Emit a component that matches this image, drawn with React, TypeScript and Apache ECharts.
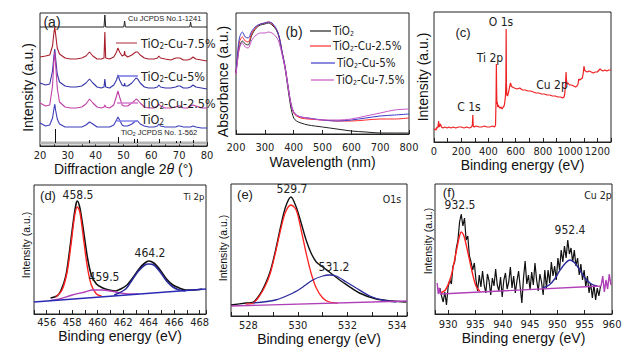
import React, { useEffect, useRef } from 'react';
import * as echarts from 'echarts';

const FONT = "'Liberation Sans', Arial, sans-serif";
const NARROW = "'Liberation Sans Narrow', 'DejaVu Sans Condensed', 'Liberation Sans', sans-serif";

// ---------- (a) XRD ----------
const xrdAngle = [20, 22, 23.5, 24.5, 25.0, 25.3, 25.6, 26.2, 27, 29, 31, 33, 35, 36.5, 37.8, 39, 40.5, 42, 43.0, 43.3, 43.6, 45, 46.5, 47.5, 48.0, 48.6, 49.5, 50.2, 50.4, 50.6, 51.5, 53, 53.9, 54.5, 55.1, 56, 57.5, 59, 61, 62.2, 62.7, 63.3, 65, 67, 68.8, 69.5, 70.3, 71.5, 73, 74.1, 75.0, 76, 78, 80];
const xrdCu75 = [89, 90, 91, 100, 113, 119, 112, 98, 92, 88, 87, 87, 88, 90, 94, 90, 87, 87, 88, 114, 88, 87, 89, 94, 98, 94, 90, 91, 95, 91, 89, 91, 93, 94, 94, 91, 88, 87, 87, 88, 90, 88, 87, 86, 88, 88, 88, 86, 86, 87, 89, 87, 86, 85];
const xrdCu5 = [63, 61, 62, 75, 90, 97, 88, 72, 64, 60, 59, 59, 60, 63, 67, 63, 59, 58, 59, 67, 59, 58, 61, 66, 71, 66, 61, 60, 63, 60, 60, 63, 66, 68, 67, 63, 59, 58, 58, 59, 61, 59, 58, 58, 59, 60, 60, 58, 58, 59, 61, 59, 58, 57];
const xrdCu25 = [43, 40, 41, 60, 85, 94, 82, 58, 44, 39, 38, 38, 39, 42, 47, 43, 39, 38, 39, 41, 39, 38, 41, 50, 55, 49, 41, 40, 40, 40, 40, 43, 45, 47, 46, 43, 39, 38, 38, 40, 42, 40, 38, 38, 39, 40, 40, 38, 38, 40, 41, 40, 38, 38];
const xrdTiO2 = [23, 20, 21, 28, 37, 42, 36, 27, 22, 19, 19, 19, 19, 21, 24, 22, 19, 19, 19, 19, 19, 19, 21, 26, 29, 26, 21, 20, 20, 20, 20, 22, 24, 25, 25, 22, 20, 19, 19, 20, 22, 20, 19, 19, 19, 20, 20, 19, 19, 19, 20, 19, 18, 18];
const cuRefAngle = [20, 43.0, 43.3, 43.6, 50.1, 50.4, 50.7, 73.8, 74.1, 74.4, 80];
const cuRefInt = [119, 119, 131, 119, 119, 125, 119, 119, 124, 119, 119];
const tioRefAngle = [25.3, 37.8, 48.0, 53.9, 55.1, 62.7, 68.8, 70.3, 75.0];
const tioRefInt = [17, 6, 9, 7, 7, 7, 5, 5, 6];
const TIO_REF_BASE = 3;

// ---------- (b) UV-vis ----------
const uvWavelength = [200, 205, 212, 222, 232, 242, 255, 270, 285, 300, 312, 325, 340, 350, 360, 370, 380, 390, 400, 410, 425, 450, 500, 550, 600, 650, 700, 750, 800];
const uvTiO2 = [61, 74, 87, 93, 90, 89, 99, 106, 109, 110, 111, 109, 104, 96, 81, 66, 46, 27, 16, 13, 11, 9, 7, 5, 3, 2, 1, 1, 1];
const uvCu25 = [61, 76, 92, 97, 93, 92, 101, 107, 110, 111, 112, 110, 105, 97, 82, 68, 49, 31, 21, 18, 16, 15, 14, 13, 13, 14, 15, 15, 16];
const uvCu5 = [61, 79, 96, 102, 97, 96, 103, 108, 110, 111, 112, 111, 105, 97, 82, 68, 49, 31, 22, 19, 17, 16, 14, 13, 14, 16, 18, 19, 20];
const uvCu75 = [59, 72, 86, 91, 87, 86, 94, 99, 101, 101, 102, 101, 97, 91, 79, 66, 48, 31, 22, 19, 17, 16, 14, 14, 15, 18, 21, 24, 25];

// ---------- (c) XPS survey ----------
const surveyEnergy = [0, 8, 15, 22, 28, 34, 38, 42, 47, 55, 65, 80, 95, 110, 125, 140, 160, 180, 200, 220, 240, 260, 275, 282, 285, 288, 295, 310, 330, 350, 370, 390, 410, 430, 445, 452, 456, 458, 460, 462, 465, 468, 472, 478, 485, 492, 500, 508, 515, 520, 525, 528, 530, 532, 535, 540, 548, 555, 562, 568, 575, 590, 610, 630, 650, 670, 690, 710, 730, 750, 770, 790, 810, 830, 850, 870, 890, 910, 930, 945, 955, 960, 965, 970, 973, 978, 985, 995, 1010, 1025, 1040, 1050, 1058, 1063, 1070, 1080, 1090, 1097, 1102, 1106, 1112, 1125, 1140, 1155, 1170, 1185, 1200, 1212, 1220, 1228, 1240, 1255, 1270, 1285, 1300];
const surveyIntensity = [12, 13, 12, 15, 14, 21, 15, 16, 18, 15, 14, 15, 14, 15, 14, 15, 14, 15, 15, 14, 15, 14, 15, 17, 27, 16, 15, 16, 15, 15, 16, 15, 15, 16, 15, 17, 45, 78, 52, 38, 40, 35, 37, 35, 34, 35, 33, 35, 36, 40, 46, 60, 113, 58, 47, 46, 50, 55, 59, 56, 55, 54, 53, 54, 52, 52, 51, 51, 50, 49, 49, 48, 48, 47, 47, 46, 46, 45, 45, 44, 45, 48, 56, 70, 62, 58, 59, 57, 57, 56, 55, 56, 58, 63, 62, 63, 64, 70, 76, 72, 71, 70, 71, 70, 69, 70, 70, 72, 73, 72, 71, 72, 71, 72, 72];

// ---------- (d) Ti 2p ----------
const tiEnergy = [456.3, 456.8, 457.1, 457.5, 457.8, 458.1, 458.3, 458.4, 458.6, 458.9, 459.2, 459.5, 459.9, 460.4, 460.9, 461.4, 461.8, 462.3, 462.8, 463.3, 463.7, 464.0, 464.4, 464.9, 465.4, 465.9, 466.4, 466.9, 467.5, 468.2];
const tiTotal = [16, 18, 23, 38, 64, 94, 110, 113, 106, 82, 56, 39, 30, 26, 24, 23, 25, 29, 37, 46, 51, 53, 51, 44, 35, 29, 26, 24, 24, 25];
const tiFitAEnergy = [456.7, 457.2, 457.6, 457.9, 458.2, 458.4, 458.6, 458.9, 459.2, 459.5, 459.9, 460.3];
const tiFitA = [17, 24, 42, 69, 99, 107, 102, 74, 46, 29, 20, 18];
const tiFitBEnergy = [456.3, 457.0, 458.0, 459.0, 459.6, 460.3, 461.0, 461.8, 462.5, 463.2];
const tiFitB = [13.5, 15, 19, 22, 24, 24, 23, 21, 20, 20];
const tiFitCEnergy = [461.3, 462.2, 462.7, 463.2, 463.7, 464.0, 464.4, 464.9, 465.4, 465.9, 466.4, 466.9];
const tiFitC = [19, 25, 34, 43, 49, 50, 49, 42, 33, 27, 24, 23];
const tiBaseEnergy = [455, 468.5];
const tiBase = [12, 25];

// ---------- (e) O 1s ----------
const oEnergy = [527.3, 527.9, 528.2, 528.45, 528.7, 528.9, 529.1, 529.3, 529.5, 529.72, 529.93, 530.13, 530.33, 530.53, 530.74, 531.0, 531.27, 531.8, 532.48, 533.16, 533.83, 534.37];
const oTotal = [11, 13, 14, 21, 33, 46, 66, 89, 109, 119, 109, 93, 76, 63, 54, 49, 44, 34, 23, 17, 15, 14];
const oFitAEnergy = [527.9, 528.2, 528.45, 528.7, 528.9, 529.1, 529.3, 529.5, 529.72, 529.93, 530.13, 530.33, 530.53, 530.74, 531.0, 531.27, 531.6];
const oFitA = [12, 13, 20, 31, 44, 64, 86, 104, 111, 106, 86, 63, 43, 28, 18, 14, 13];
const oFitBEnergy = [528.2, 529.1, 529.8, 530.2, 530.6, 531.0, 531.27, 531.54, 531.95, 532.35, 532.9, 533.4, 533.97];
const oFitB = [13, 16, 23, 29, 36, 40, 41, 40, 34, 28, 20, 16, 14];
const oBaseEnergy = [527.3, 534.4];
const oBase = [10, 15];

// ---------- (f) Cu 2p ----------
const cuEnergy = [928.5, 928.8, 929.1, 929.4, 929.7, 930.0, 930.3, 930.6, 930.9, 931.2, 931.5, 931.8, 932.1, 932.4, 932.7, 933.0, 933.3, 933.6, 933.9, 934.2, 934.5, 934.8, 935.1, 935.4, 935.7, 936.0, 936.3, 936.6, 936.9, 937.2, 937.5, 937.8, 938.1, 938.4, 938.7, 939.0, 939.3, 939.6, 939.9, 940.2, 940.5, 940.8, 941.1, 941.4, 941.7, 942.0, 942.3, 942.6, 942.9, 943.2, 943.5, 943.8, 944.1, 944.4, 944.7, 945.0, 945.3, 945.6, 945.9, 946.2, 946.5, 946.8, 947.1, 947.4, 947.7, 948.0, 948.3, 948.6, 948.9, 949.2, 949.5, 949.8, 950.1, 950.4, 950.7, 951.0, 951.3, 951.6, 951.9, 952.2, 952.5, 952.8, 953.1, 953.4, 953.7, 954.0, 954.3, 954.6, 954.9, 955.2, 955.5, 955.8, 956.1, 956.4, 956.7, 957.0, 957.3, 957.6, 957.9];
const cuIntensity = [26, 18, 12, 22, 9, 27, 34, 30, 48, 52, 66, 74, 92, 100, 88, 96, 74, 78, 58, 52, 44, 51, 34, 23, 39, 27, 43, 29, 21, 40, 33, 19, 36, 28, 45, 29, 23, 37, 17, 34, 41, 25, 32, 47, 26, 38, 21, 33, 43, 27, 11, 36, 53, 30, 39, 24, 42, 29, 51, 34, 23, 40, 32, 19, 44, 26, 44, 31, 52, 38, 48, 34, 56, 44, 64, 52, 68, 56, 74, 60, 66, 52, 64, 48, 56, 39, 50, 34, 44, 27, 38, 21, 31, 16, 29, 14, 26, 18, 28];
const cuFitAEnergy = [928.6, 929.5, 930.5, 931.3, 932.0, 932.4, 932.9, 933.6, 934.4, 935.1, 935.9];
const cuFitA = [21, 24, 37, 57, 76, 82, 78, 62, 42, 28, 22];
const cuFitBEnergy = [947.3, 948.5, 949.5, 950.5, 951.5, 952.3, 953.2, 954.2, 955.2, 956.2, 957.3];
const cuFitB = [26, 29, 35, 44, 51, 54, 51, 43, 35, 30, 28];
const cuBaseEnergy = [928.0, 928.2, 928.4, 928.6, 958.0, 958.3, 958.6, 958.9, 959.2, 959.5, 959.8];
const cuBase = [31, 20, 26, 20, 28, 38, 22, 34, 25, 40, 29];

const zip = (xs: number[], ys: number[]) => xs.map((x, i) => [x, ys[i]]);

const SUB = (size: number, fam: string, fill: string) => ({
  s: { fontSize: Math.round(size * 0.62), fontFamily: fam, fill, padding: [Math.round(size * 0.45), 0, 0, 0] },
});

function txt(x: number, y: number, text: string, size: number, opt: any = {}) {
  const fam = opt.fam || NARROW;
  const fill = opt.fill || '#222';
  return {
    type: 'text', x, y, silent: true, z: 100,
    style: { text, fontSize: size, fontFamily: fam, fill, align: opt.align || 'center', verticalAlign: 'middle', rich: SUB(size, fam, fill) },
  };
}
function seg(x1: number, y1: number, x2: number, y2: number, color: string, w = 1.5) {
  return { type: 'line', silent: true, z: 100, shape: { x1, y1, x2, y2 }, style: { stroke: color, lineWidth: w } };
}

function xAx(i: number, min: number, max: number, name: string, gap: number, margin: number, formatter: any, extra: any = {}) {
  return {
    type: 'value', gridIndex: i, min, max,
    axisLine: { show: true, lineStyle: { color: '#222', width: 1 } },
    axisTick: { show: true, inside: true, length: 4, lineStyle: { color: '#222' } },
    splitLine: { show: false },
    axisLabel: { margin, fontSize: 11, color: '#222', fontFamily: NARROW, formatter },
    name, nameLocation: 'middle', nameGap: gap,
    nameTextStyle: { fontSize: 14, fontFamily: FONT, color: '#111', rich: { i: { fontStyle: 'italic', fontSize: 14, fontFamily: FONT, color: '#111' } } },
    ...extra,
  };
}
function yAx(i: number, max: number, name: string, gap: number, size: number, padding: number[]) {
  return {
    type: 'value', gridIndex: i, min: 0, max,
    axisLine: { show: false }, axisTick: { show: false }, axisLabel: { show: false }, splitLine: { show: false },
    name, nameLocation: 'middle', nameGap: gap,
    nameTextStyle: { fontSize: size, fontFamily: FONT, color: '#111', padding },
  };
}
function ln(ax: number, data: any[], color: string, width = 1, smooth: any = false, z = 2) {
  return { type: 'line', xAxisIndex: ax, yAxisIndex: ax, data, showSymbol: false, symbol: 'none', smooth, silent: true, z, lineStyle: { color, width }, animation: false };
}

function buildOption() {
  const grids = [
    { left: 40, top: 13, width: 167, height: 133 },
    { left: 236, top: 13, width: 173, height: 121 },
    { left: 434, top: 12, width: 177, height: 130 },
    { left: 34, top: 185, width: 172, height: 129 },
    { left: 231, top: 184, width: 176, height: 132 },
    { left: 435, top: 184, width: 177, height: 130 },
  ].map((g) => ({ ...g, show: true, borderColor: '#222', borderWidth: 1, backgroundColor: 'transparent' }));

  const everyN = (n: number) => (v: number) => (Math.abs(v % n) < 1e-6 ? String(v) : '');

  const xAxis = [
    xAx(0, 20, 80, 'Diffraction angle 2{i|θ} (°)', 11, 4, everyN(10), { interval: 10, minorTick: { show: true, splitNumber: 2, length: 2, lineStyle: { color: '#222' } } }),
    xAx(1, 200, 800, 'Wavelength (nm)', 21, 8, everyN(100), { interval: 100 }),
    xAx(2, 0, 1300, 'Binding energy (eV)', 15, 4, everyN(200), { interval: 100 }),
    xAx(3, 455, 468.5, 'Binding energy (eV)', 14, 3, everyN(2), { interval: 1 }),
    xAx(4, 527.3, 534.4, 'Binding energy (eV)', 15, 4, everyN(2), { minInterval: 1, maxInterval: 1, splitNumber: 7 }),
    xAx(5, 927.6, 960, 'Binding energy (eV)', 16, 5, everyN(5), { minInterval: 5, maxInterval: 5, splitNumber: 6 }),
  ];
  const yAxis = [
    yAx(0, 133, 'Intensity (a.u.)', 5, 14, [0, 16, 0, 0]),
    yAx(1, 121, 'Absorbance (a.u.)', 6, 14, [0, 16, 0, 0]),
    yAx(2, 130, 'Intensity (a.u.)', 4, 14, [0, 0, 0, 0]),
    yAx(3, 129, 'Intensity (a.u.)', 3, 10.5, [0, 0, 0, 9]),
    yAx(4, 132, 'Intensity (a.u.)', 2.5, 10.5, [0, 0, 0, 4]),
    yAx(5, 130, 'Intensity (a.u.)', 2, 10.5, [0, 0, 0, 16]),
  ];

  const series: any[] = [
    // (a)
    ln(0, [[20, TIO_REF_BASE], [80, TIO_REF_BASE]], '#b4b4b4', 3, false, 1),
    {
      type: 'lines', coordinateSystem: 'cartesian2d', xAxisIndex: 0, yAxisIndex: 0, silent: true, z: 3,
      lineStyle: { color: '#111', width: 1, opacity: 1 },
      data: tioRefAngle.map((x, i) => ({ coords: [[x, TIO_REF_BASE], [x, tioRefInt[i]]] })),
    },
    ln(0, zip(cuRefAngle, cuRefInt), '#222', 1),
    ln(0, zip(xrdAngle, xrdCu75), '#a8202e', 1.1),
    ln(0, zip(xrdAngle, xrdCu5), '#3434a8', 1.1),
    ln(0, zip(xrdAngle, xrdCu25), '#c040a8', 1.1),
    ln(0, zip(xrdAngle, xrdTiO2), '#3c3cb8', 1.1),
    // (b)
    ln(1, zip(uvWavelength, uvTiO2), '#222', 1, 0.3),
    ln(1, zip(uvWavelength, uvCu25), '#ff2a2a', 1, 0.3),
    ln(1, zip(uvWavelength, uvCu5), '#3a3ac8', 1, 0.3),
    ln(1, zip(uvWavelength, uvCu75), '#c454c4', 1, 0.3),
    // (c)
    ln(2, zip(surveyEnergy, surveyIntensity), '#ee2222', 1.2),
    // (d)
    ln(3, zip(tiEnergy, tiTotal), '#111', 1.6, 0.3),
    ln(3, zip(tiFitAEnergy, tiFitA), '#ff2020', 1.4, 0.3),
    ln(3, zip(tiFitBEnergy, tiFitB), '#b040b8', 1.4, 0.3),
    ln(3, zip(tiFitCEnergy, tiFitC), '#2a2a9c', 1.6, 0.3),
    ln(3, zip(tiBaseEnergy, tiBase), '#2a2ab4', 1.4),
    // (e)
    ln(4, zip(oEnergy, oTotal), '#111', 1.4, 0.3),
    ln(4, zip(oFitAEnergy, oFitA), '#ff2020', 1.3, 0.3),
    ln(4, zip(oFitBEnergy, oFitB), '#2a2a9c', 1.3, 0.3),
    ln(4, zip(oBaseEnergy, oBase), '#b040b8', 1.4),
    // (f)
    ln(5, zip(cuEnergy, cuIntensity), '#111', 1.2),
    ln(5, zip(cuFitAEnergy, cuFitA), '#ff2020', 1.4, 0.3),
    ln(5, zip(cuFitBEnergy, cuFitB), '#2a2a9c', 1.4, 0.3),
    ln(5, zip(cuBaseEnergy, cuBase), '#b040b8', 1.4),
  ];

  const L = { align: 'left' };
  const graphic = {
    elements: [
      txt(52, 22, '(a)', 14, { fam: FONT }),
      txt(128, 18, 'Cu JCPDS No.1-1241', 7.5, { align: 'left', fam: FONT }),
      seg(116, 43, 137, 43, '#c87078'),
      txt(141, 43, 'TiO{s|2}-Cu-7.5%', 12.5, L),
      seg(117, 76, 138, 76, '#7474e4'),
      txt(141, 76, 'TiO{s|2}-Cu-5%', 12.5, L),
      seg(117, 103, 138, 103, '#d478cc'),
      txt(141, 103, 'TiO{s|2}-Cu-2.5%', 12.5, L),
      seg(117, 121, 138, 121, '#8484ec'),
      txt(141, 119, 'TiO{s|2}', 12.5, L),
      txt(121, 132, 'TiO{s|2} JCPDS No. 1-562', 7.5, { align: 'left', fam: FONT }),

      txt(294, 32, '(b)', 14, { fam: FONT }),
      seg(310, 31, 331, 31, '#222', 1.2),
      txt(333, 31, 'TiO{s|2}', 11.5, L),
      seg(310, 46, 331, 46, '#ff2a2a', 1.2),
      txt(333, 46, 'TiO{s|2}-Cu-2.5%', 11.5, L),
      seg(311, 63, 335, 63, '#3a3ac8', 1.2),
      txt(337, 63, 'TiO{s|2}-Cu-5%', 11.5, L),
      seg(311, 80, 334, 80, '#c454c4', 1.2),
      txt(336, 80, 'TiO{s|2}-Cu-7.5%', 11.5, L),

      txt(463, 32, '(c)', 13, { fam: FONT }),
      txt(501, 22, 'O 1s', 12),
      txt(490, 58, 'Ti 2p', 12),
      txt(552, 85, 'Cu 2p', 12),
      txt(469, 107, 'C 1s', 12),

      txt(48, 195, '(d)', 13, { fam: FONT }),
      txt(78, 195, '458.5', 12),
      txt(194, 196, 'Ti 2p', 9.5),
      txt(150, 253, '464.2', 12),
      txt(104, 277, '459.5', 12),

      txt(245, 194, '(e)', 13, { fam: FONT }),
      txt(292, 189, '529.7', 12),
      txt(392, 199, 'O1s', 10.5),
      txt(334, 267, '531.2', 12),

      txt(449, 192, '(f)', 13, { fam: FONT }),
      txt(460, 205, '932.5', 12),
      txt(598, 195, 'Cu 2p', 10.5),
      txt(570, 230, '952.4', 12),
    ],
  };

  return {
    animation: false,
    backgroundColor: '#ffffff',
    textStyle: { fontFamily: FONT },
    grid: grids,
    xAxis,
    yAxis,
    series,
    graphic,
  };
}

export default function App() {
  const ref = useRef<HTMLDivElement>(null);
  useEffect(() => {
    if (!ref.current) return;
    const chart = echarts.init(ref.current, null, { renderer: 'svg' });
    chart.setOption(buildOption() as any);
    return () => chart.dispose();
  }, []);
  return <div ref={ref} style={{ position: 'absolute', left: 0, top: 0, width: 631, height: 351, background: '#fff' }} />;
}
